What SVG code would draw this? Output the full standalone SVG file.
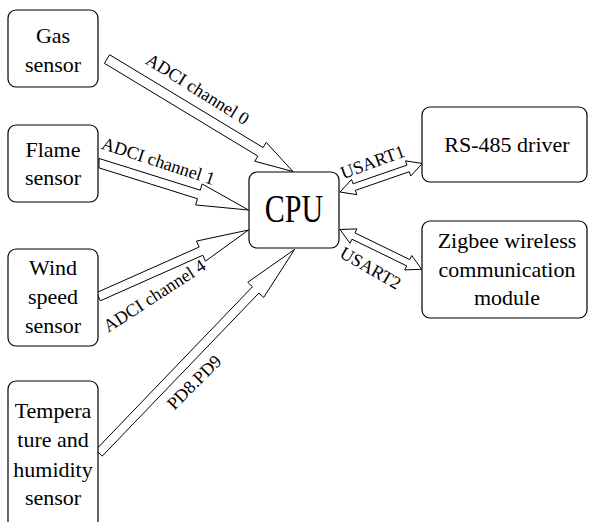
<svg xmlns="http://www.w3.org/2000/svg" width="589" height="522" viewBox="0 0 589 522">
<style>
.box{fill:#fff;stroke:#000;stroke-width:1.2}
.arr{fill:#fff;stroke:#000;stroke-width:1;stroke-linejoin:miter}
.t{font-family:"Liberation Serif","Times New Roman",serif;font-size:22px;fill:#000;text-anchor:middle}
.l{font-family:"Liberation Serif","Times New Roman",serif;font-size:18px;fill:#000;text-anchor:middle}
</style>
<rect width="589" height="522" fill="#fff"/>
<g id="connectors">
<polygon class="arr" points="104.41,63.28 257.90,156.11 254.80,161.24 293,171.5 266.18,142.42 263.08,147.55 109.59,54.72"/>
<polygon class="arr" points="99,167.87 197.53,198.74 195.59,204.95 248.5,210 202.17,183.95 200.23,190.16 99,158.44"/>
<polygon class="arr" points="100.33,300.81 202.82,255.24 205.46,261.18 248.5,230 196.52,241.08 199.16,247.02 96.67,292.59"/>
<polygon class="arr" points="102.24,456.12 258.94,293.0 263.63,297.5 294.5,249.5 247.77,282.26 252.46,286.76 95.76,449.88"/>
<polygon class="arr" points="340,192 356.80,194.65 355.33,190.40 409.28,171.72 410.75,175.97 422.3,163.5 405.51,160.85 406.99,165.10 353.04,183.78 351.56,179.53"/>
<polygon class="arr" points="340,229.5 349.99,243.26 351.96,239.22 406.69,265.88 404.72,269.92 421.7,269.3 411.72,255.54 409.75,259.58 355.02,232.92 356.99,228.88"/>
<text class="l" transform="translate(194.4,94.2) rotate(32)">ADCI channel 0</text>
<text class="l" transform="translate(156.5,166.8) rotate(18)">ADCI channel 1</text>
<text class="l" transform="translate(157.7,300.7) rotate(-33)">ADCI channel 4</text>
<text class="l" transform="translate(198.5,386.5) rotate(-45)">PD8.PD9</text>
<text class="l" transform="translate(374.7,167.7) rotate(-20)">USART1</text>
<text class="l" transform="translate(367.5,273.3) rotate(30)">USART2</text>
</g>
<g id="gas">
<rect class="box" x="8" y="10" width="90" height="77" rx="8"/>
<text class="t" x="53" y="43">Gas</text>
<text class="t" x="53" y="71.5">sensor</text>
</g>
<g id="flame">
<rect class="box" x="8" y="125" width="90" height="77" rx="8"/>
<text class="t" x="53" y="157">Flame</text>
<text class="t" x="53" y="185">sensor</text>
</g>
<g id="wind">
<rect class="box" x="8" y="249" width="90" height="97" rx="8"/>
<text class="t" x="53" y="275">Wind</text>
<text class="t" x="53" y="304">speed</text>
<text class="t" x="53" y="333">sensor</text>
</g>
<g id="temp">
<rect class="box" x="8" y="381" width="90" height="150" rx="8"/>
<text class="t" x="53" y="418">Tempera</text>
<text class="t" x="53" y="447">ture and</text>
<text class="t" x="53" y="476.5">humidity</text>
<text class="t" x="53" y="505">sensor</text>
</g>
<g id="cpu">
<rect class="box" x="249" y="172" width="90" height="76" rx="8"/>
<text class="t" transform="translate(294,222) scale(1,1.3)" style="font-size:30px">CPU</text>
</g>
<g id="rs485">
<rect class="box" x="422" y="107" width="165" height="75" rx="8"/>
<text class="t" x="507" y="151.5">RS-485 driver</text>
</g>
<g id="zigbee">
<rect class="box" x="422" y="221" width="165" height="97" rx="8"/>
<text class="t" x="507" y="248">Zigbee wireless</text>
<text class="t" x="507" y="277">communication</text>
<text class="t" x="507" y="305">module</text>
</g>
</svg>
